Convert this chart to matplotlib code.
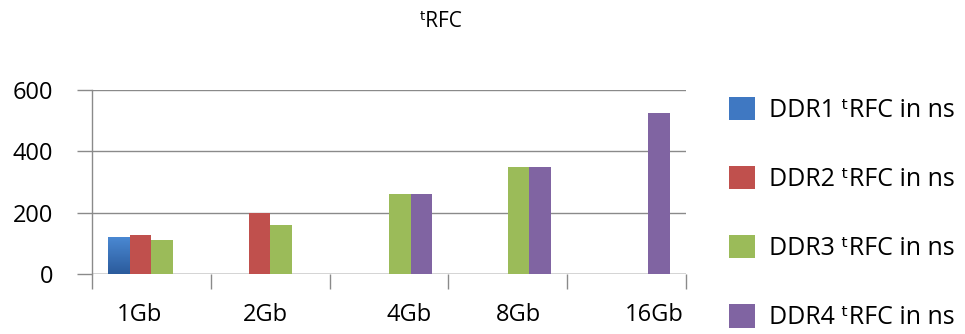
import numpy as np
import matplotlib
matplotlib.use("Agg")
import matplotlib.pyplot as plt
from matplotlib.patches import Patch

plt.rcParams['font.family'] = ['Open Sans', 'DejaVu Sans']

# tRFC (ns) by device density
sizes = ['1Gb', '2Gb', '4Gb', '8Gb', '16Gb']
ddr1 = [120, np.nan, np.nan, np.nan, np.nan]
ddr2 = [127.5, 197.5, np.nan, np.nan, np.nan]
ddr3 = [110, 160, 260, 350, np.nan]
ddr4 = [np.nan, np.nan, 260, 350, 525]

series = [ddr1, ddr2, ddr3, ddr4]
names = ['DDR1 ᵗRFC in ns', 'DDR2 ᵗRFC in ns', 'DDR3 ᵗRFC in ns', 'DDR4 ᵗRFC in ns']
colors = ['#3f78c2', '#c0504d', '#9bbb59', '#8064a2']
label_shift = [-0.10, -0.04, 0.17, 0.09, 0.23]

grid_col = '#8a8a8a'
text_col = '#000000'

fig = plt.figure(figsize=(9.65, 3.34), dpi=100)
ax = fig.add_axes([92/965, 1 - 274/334, (686-92)/965, (274-90)/334])

x = np.arange(len(sizes))
w = 0.182
for i, (vals, c) in enumerate(zip(series, colors)):
    v = np.nan_to_num(np.array(vals, dtype=float))
    bars = ax.bar(x + (i - 1.5) * w, v, width=w, color=c, zorder=3, linewidth=0)
    if i == 0:
        # vertical shading on the DDR1 bars
        for b in bars:
            if b.get_height() <= 0:
                continue
            x0, y0 = b.get_x(), b.get_y()
            grad = np.linspace(0, 1, 64).reshape(-1, 1)
            im = ax.imshow(grad, cmap=matplotlib.colors.LinearSegmentedColormap.from_list(
                'g', ['#2b5b9c', '#4a88d2']), aspect='auto', origin='lower',
                extent=[x0, x0 + b.get_width(), y0, y0 + b.get_height()], zorder=3.5)
            im.set_clip_path(b)

ax.set_xlim(-0.5, len(sizes) - 0.5)
ax.set_ylim(0, 600)
ax.set_yticks([0, 200, 400, 600])
ax.grid(axis='y', color=grid_col, linewidth=1.0, zorder=0)
ax.set_axisbelow(True)

for s in ['top', 'right', 'bottom']:
    ax.spines[s].set_visible(False)
ax.spines['left'].set_color(grid_col)
ax.spines['left'].set_linewidth(1.0)

ax.tick_params(axis='y', length=11, width=1.0, color=grid_col, pad=17,
               labelsize=17, labelcolor=text_col)

ax.set_xticks(x + np.array(label_shift))
ax.set_xticklabels(sizes)
ax.set_xticks(np.arange(-0.5, len(sizes)), minor=True)
ax.tick_params(axis='x', which='major', length=0, pad=21, labelsize=17,
               labelcolor=text_col)
ax.tick_params(axis='x', which='minor', length=11, width=1.0, color=grid_col)
ax.axhline(0, color=grid_col, linewidth=1.0, zorder=2)

fig.text(441/965, 1 - 11/334, 'ᵗRFC', ha='center', va='top',
         fontsize=15, color=text_col)

handles = [Patch(facecolor=c, edgecolor='none') for c in colors]
fig.legend(handles, names, loc='upper left', bbox_to_anchor=(729/965, 1 - 97/334),
           frameon=False, fontsize=18, handlelength=1.05, handleheight=1.05,
           handletextpad=0.55, labelspacing=1.72, borderpad=0, borderaxespad=0,
           labelcolor=text_col)

fig.savefig('out.png', dpi=100)
